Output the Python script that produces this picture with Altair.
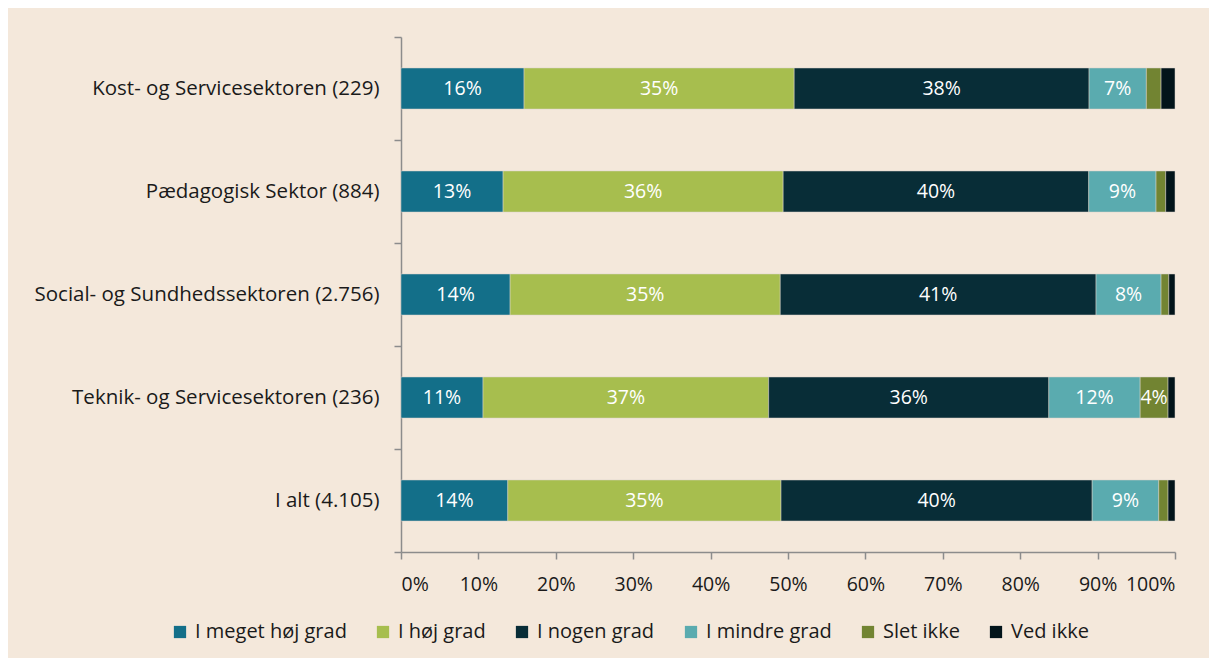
import altair as alt
import pandas as pd

categories = [
    "Kost- og Servicesektoren (229)",
    "Pædagogisk Sektor (884)",
    "Social- og Sundhedssektoren (2.756)",
    "Teknik- og Servicesektoren (236)",
    "I alt (4.105)",
]
series = ["I meget høj grad", "I høj grad", "I nogen grad", "I mindre grad", "Slet ikke", "Ved ikke"]
colors = ["#136F89", "#A7BE4E", "#082D37", "#5AABAF", "#728432", "#02141A"]

meget_hoj = [15.9, 13.2, 14.1, 10.6, 13.8]
hoj = [34.9, 36.2, 34.9, 36.9, 35.3]
nogen = [38.1, 39.5, 40.8, 36.2, 40.2]
mindre = [7.4, 8.7, 8.4, 11.8, 8.6]
slet = [1.9, 1.25, 1.0, 3.6, 1.2]
ved_ikke = [1.8, 1.2, 0.8, 0.9, 0.9]

values = [meget_hoj, hoj, nogen, mindre, slet, ved_ikke]
rows = []
for si, (s, vals) in enumerate(zip(series, values)):
    for c, v in zip(categories, vals):
        rows.append({"cat": c, "serie": s, "order": si, "value": v})
df = pd.DataFrame(rows)

FONT = "Open Sans"
FS = 19.5

base = alt.Chart(df).transform_stack(
    stack="value", groupby=["cat"], as_=["x0", "x1"],
    sort=[alt.SortField("order", order="ascending")], offset="normalize",
).transform_calculate(
    mid="(datum.x0 + datum.x1) / 2",
    label="round(datum.value) + '%'",
)

y_enc = alt.Y(
    "cat:N", sort=categories, title=None,
    scale=alt.Scale(paddingInner=0, paddingOuter=0),
    axis=alt.Axis(
        tickBand="extent", tickSize=7, labelPadding=15, domainColor="#8c8c8c",
        tickColor="#8c8c8c", labelFontSize=20.5, labelColor="#1a1a1a", labelFont=FONT,
        domainWidth=1.5, tickWidth=1.5, labelLimit=0,
    ),
)

bars = base.mark_bar(size=41, stroke="#d9d2c8", strokeWidth=0.5).encode(
    y=y_enc,
    x=alt.X(
        "x0:Q", title=None,
        scale=alt.Scale(domain=[0, 1], nice=False),
        axis=alt.Axis(
            format="%", values=[i / 10 for i in range(11)], tickSize=7, labelPadding=16,
            domainColor="#8c8c8c", tickColor="#8c8c8c", labelFontSize=FS,
            labelColor="#1a1a1a", labelFont=FONT, grid=False, domainWidth=1.5, tickWidth=1.5,
        ),
    ),
    x2="x1:Q",
    color=alt.Color(
        "serie:N", sort=series, scale=alt.Scale(domain=series, range=colors),
        legend=alt.Legend(
            title=None, orient="none", direction="horizontal", legendX=-231, legendY=585,
            symbolType="square", symbolSize=150, symbolStrokeWidth=0, labelFontSize=20,
            labelFont=FONT, labelColor="#1a1a1a", columnPadding=26, labelOffset=5,
            labelLimit=0,
        ),
    ),
    order=alt.Order("order:Q"),
)

texts = base.transform_filter("datum.value >= 3").mark_text(
    color="white", fontSize=FS, font=FONT
).encode(
    y=alt.Y("cat:N", sort=categories),
    x="mid:Q",
    text="label:N",
)

chart = (bars + texts).properties(
    width=774, height=515,
    autosize=alt.AutoSizeParams(type="none"),
    padding={"left": 393, "top": 29, "right": 34, "bottom": 106},
    background="#F4E8DB",
).configure_view(stroke=None)

chart.save("out.html", embed_options={"renderer": "svg", "actions": False})
